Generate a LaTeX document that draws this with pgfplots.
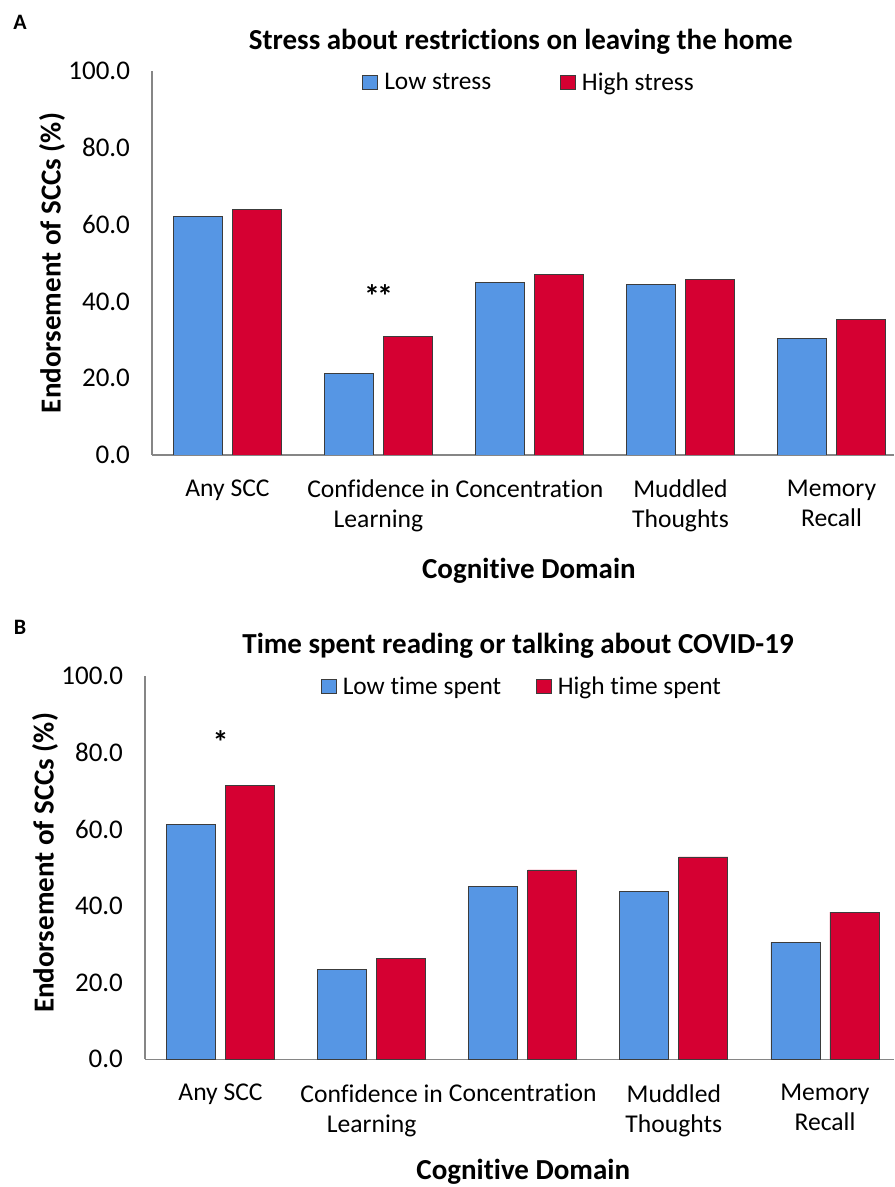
\documentclass[border=0pt]{standalone}
\usepackage{fontspec}
\setmainfont{Carlito}[Ligatures=NoCommon]
\usepackage{pgfplots}
\pgfplotsset{compat=1.18}
\definecolor{lowblue}{RGB}{86,150,228}
\definecolor{highred}{RGB}{213,0,50}
\definecolor{axgray}{RGB}{134,134,134}
\definecolor{edgec}{RGB}{60,60,60}

\pgfplotsset{sccstyle/.style={
  scale only axis,
  anchor=south west,
  ybar=5pt, bar width=24.5pt,
  ymin=0, ymax=100, xmin=-0.5,
  ytick={0,20,40,60,80,100},
  xtick={0,1,2,3,4},
  xticklabels={{Any SCC},{Confidence in\\Learning},{Concentration},{Muddled\\Thoughts},{Memory\\Recall}},
  axis x line*=bottom, axis y line*=left,
  axis line style={axgray, line width=0.75pt, -},
  major tick length=0pt,
  tick style={draw=none},
  every axis title shift=0pt,
  yticklabel style={/pgf/number format/.cd, fixed, fixed zerofill, precision=1, assume math mode=true, /tikz/.cd, font=\fontsize{13.5}{15}\selectfont, xshift=-7.5pt},
  xticklabel style={font=\fontsize{12.8}{15}\selectfont, align=center, anchor=north, yshift=-9pt},
  xlabel={Cognitive Domain},
  ylabel={Endorsement of SCCs (\%)},
  xlabel style={font=\bfseries\fontsize{14.5}{16}\selectfont, anchor=center},
  ylabel style={font=\bfseries\fontsize{14.5}{16}\selectfont, anchor=center},
  title style={font=\bfseries\fontsize{14.5}{16}\selectfont, anchor=center},
  legend style={anchor=center, draw=none, fill=none, legend columns=2, font=\fontsize{12.7}{14}\selectfont, nodes={inner xsep=3.2pt}},
  legend image code/.code={\draw[#1, draw=edgec, line width=0.4pt] (0pt,-3.5pt) rectangle (7.5pt,3.5pt);},
  lowbar/.style={fill=lowblue, draw=edgec, line width=0.4pt},
  highbar/.style={fill=highred, draw=edgec, line width=0.4pt},
}}

\begin{document}
\begin{tikzpicture}
\path[use as bounding box] (0pt,0pt) rectangle (447pt,593.5pt);
\node[font=\bfseries\fontsize{11}{11}\selectfont] at (10pt,582.5pt) {A};
\node[font=\bfseries\fontsize{11}{11}\selectfont] at (10pt,280pt) {B};

% Panel A
\begin{axis}[sccstyle,
  at={(76pt,366pt)}, width=371pt, height=192pt, xmax=4.414,
  title={Stress about restrictions on leaving the home},
  title style={at={(axis description cs:0.497,1.0755)}},
  xlabel style={at={(axis description cs:0.508,-0.302)}},
  ylabel style={at={(axis description cs:-0.1348,0.5)}},
  legend style={at={(0.511,0.969)}, /tikz/every even column/.append style={column sep=31pt}},
]
\addplot[lowbar] coordinates {(0,62.2) (1,21.3) (2,45.0) (3,44.4) (4,30.4)};
\addplot[highbar] coordinates {(0,64.0) (1,30.8) (2,47.1) (3,45.6) (4,35.2)};
\legend{Low stress, High stress}
\node[font=\bfseries\fontsize{16}{16}\selectfont] at (axis cs:1,41.4) {*\kern-1.5pt*};
\end{axis}

% Panel B
\begin{axis}[sccstyle,
  at={(72.5pt,63.85pt)}, width=374.5pt, height=191.6pt, xmax=4.457,
  title={Time spent reading or talking about COVID-19},
  title style={at={(axis description cs:0.498,1.079)}},
  xlabel style={at={(axis description cs:0.505,-0.294)}},
  ylabel style={at={(axis description cs:-0.1335,0.5125)}},
  legend style={at={(0.506,0.972)}, /tikz/every even column/.append style={column sep=14pt}},
]
\addplot[lowbar] coordinates {(0,61.4) (1,23.5) (2,45.0) (3,43.7) (4,30.5)};
\addplot[highbar] coordinates {(0,71.4) (1,26.4) (2,49.4) (3,52.8) (4,38.4)};
\legend{Low time spent, High time spent}
\node[font=\bfseries\fontsize{16}{16}\selectfont] at (axis cs:0,82.8) {*};
\end{axis}
\end{tikzpicture}
\end{document}
